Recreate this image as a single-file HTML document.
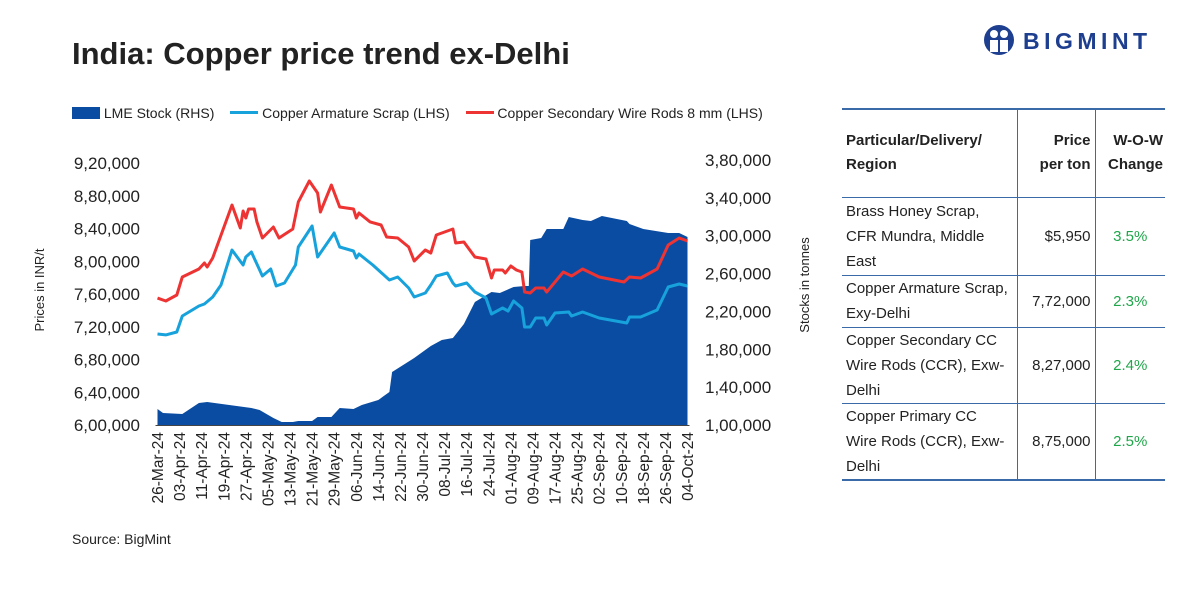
<!DOCTYPE html>
<html><head><meta charset="utf-8"><style>
body{margin:0;width:1200px;height:600px;background:#fff;font-family:"Liberation Sans",sans-serif;position:relative;overflow:hidden}
.abs{position:absolute}
table{border-collapse:collapse;table-layout:fixed}
td.c1{padding:0 8px 0 4px;line-height:25px}
</style></head><body>
<div class="abs" style="left:72px;top:36px;font-size:31px;font-weight:bold;color:#222">India: Copper price trend ex-Delhi</div>
<div class="abs" style="left:983px;top:24px;width:175px;height:32px">
<svg width="36" height="32" style="position:absolute;left:0;top:0"><circle cx="16" cy="16" r="15" fill="#1e3f8f"/><circle cx="11" cy="10" r="4" fill="#fff"/><circle cx="21" cy="10" r="4" fill="#fff"/><path d="M7 16h8v12h-8zM17 16h8v12h-8z" fill="#fff"/></svg>
<span style="position:absolute;left:40px;top:4px;font-size:23px;font-weight:bold;letter-spacing:4.5px;color:#1e3f8f">BIGMINT</span></div>

<div class="abs" style="left:72px;top:105px;font-size:14px;color:#222;white-space:nowrap">
<span><span style="display:inline-block;width:28px;height:12px;background:#0a4ca2;vertical-align:-1px"></span> LME Stock (RHS)</span>
<span style="margin-left:12px"><span style="display:inline-block;width:28px;height:3px;background:#17a2dc;vertical-align:4px"></span> Copper Armature Scrap (LHS)</span>
<span style="margin-left:12px"><span style="display:inline-block;width:28px;height:3px;background:#ee3333;vertical-align:4px"></span> Copper Secondary Wire Rods 8 mm (LHS)</span>
</div>

<svg class="abs" style="left:0;top:0" width="840" height="600" id="chart"></svg>
<div class="abs" style="left:72px;top:531px;font-size:14px;color:#222">Source: BigMint</div>

<div class="abs" style="left:842px;top:108px;width:323px">
<table style="width:323px;font-size:15px;color:#222;border-top:2px solid #3b6aa8;border-bottom:2px solid #3b6aa8">
<colgroup><col style="width:175px"><col style="width:78px"><col style="width:70px"></colgroup>
<tr style="height:88px;font-weight:bold;border-bottom:1px solid #3b6aa8"><td style="padding:0 4px;line-height:24px">Particular/Delivery/<br>Region</td><td style="text-align:right;padding-right:4px;line-height:24px;border-left:1px solid #3b6aa8">Price<br>per ton</td><td style="text-align:right;padding-right:2px;line-height:24px;border-left:1px solid #3b6aa8">W-O-W<br>Change</td></tr>
<tr style="height:78px;border-bottom:1px solid #3b6aa8"><td class="c1">Brass Honey Scrap, CFR Mundra, Middle East</td><td style="text-align:right;padding-right:4px;border-left:1px solid #3b6aa8">$5,950</td><td style="text-align:center;color:#1fa64a;border-left:1px solid #3b6aa8">3.5%</td></tr>
<tr style="height:52px;border-bottom:1px solid #3b6aa8"><td class="c1">Copper Armature Scrap, Exy-Delhi</td><td style="text-align:right;padding-right:4px;border-left:1px solid #3b6aa8">7,72,000</td><td style="text-align:center;color:#1fa64a;border-left:1px solid #3b6aa8">2.3%</td></tr>
<tr style="height:76px;border-bottom:1px solid #3b6aa8"><td class="c1">Copper Secondary CC Wire Rods (CCR), Exw-Delhi</td><td style="text-align:right;padding-right:4px;border-left:1px solid #3b6aa8">8,27,000</td><td style="text-align:center;color:#1fa64a;border-left:1px solid #3b6aa8">2.4%</td></tr>
<tr style="height:76px"><td class="c1">Copper Primary CC Wire Rods (CCR), Exw-Delhi</td><td style="text-align:right;padding-right:4px;border-left:1px solid #3b6aa8">8,75,000</td><td style="text-align:center;color:#1fa64a;border-left:1px solid #3b6aa8">2.5%</td></tr>
</table></div>

<script>
const xLabels=["26-Mar-24","03-Apr-24","11-Apr-24","19-Apr-24","27-Apr-24","05-May-24","13-May-24","21-May-24","29-May-24","06-Jun-24","14-Jun-24","22-Jun-24","30-Jun-24","08-Jul-24","16-Jul-24","24-Jul-24","01-Aug-24","09-Aug-24","17-Aug-24","25-Aug-24","02-Sep-24","10-Sep-24","18-Sep-24","26-Sep-24","04-Oct-24"];
const leftTicks=[600000,640000,680000,720000,760000,800000,840000,880000,920000];
const leftTickLabels=["6,00,000","6,40,000","6,80,000","7,20,000","7,60,000","8,00,000","8,40,000","8,80,000","9,20,000"];
const rightTicks=[100000,140000,180000,220000,260000,300000,340000,380000];
const rightTickLabels=["1,00,000","1,40,000","1,80,000","2,20,000","2,60,000","3,00,000","3,40,000","3,80,000"];
const redDays=[0,3,7,9,15,17,18,20,27,30,31,32,33,35,36,38,42,44,49,51,55,58,59,63,66,71,72,73,77,81,83,87,91,93,97,99,101,107,108,111,115,119,121,122,125,126,128,130,132,133,135,137,140,141,147,150,154,160,169,171,175,181,185,189,192];
const redVals=[755000,751500,758800,780800,790500,797900,793000,804000,868700,840600,861400,852800,863800,863800,848000,828400,841800,828400,839400,872400,898000,883400,860200,893100,866300,863800,852800,858900,848000,844300,829600,828400,817400,800300,813700,810100,832100,839400,822300,823500,805200,802800,779500,789300,789300,785700,794200,789300,786900,762400,761200,767300,767300,762400,786900,782000,790500,780800,774700,780800,779500,790500,819900,828400,824700];
const blueDays=[0,3,7,9,15,17,20,23,27,31,32,34,36,38,41,43,46,50,51,56,58,64,66,71,72,73,78,84,87,91,93,97,99,101,105,107,108,112,115,119,121,125,127,129,132,133,135,137,140,141,144,149,150,154,160,170,171,175,181,185,189,192];
const blueVals=[711100,710000,713600,733100,745300,747800,756300,771000,813700,795400,805200,811300,796600,782000,790500,769800,773400,795400,817400,843100,805200,834500,817400,812500,804000,808900,795400,777100,780800,767300,756300,761200,771000,782000,785700,773400,769800,773400,762400,755100,735600,742900,739200,751500,742900,719700,719700,730700,730700,722100,736800,738000,733100,738000,730700,724600,731900,731900,740500,768600,772200,769800];
const stockDays=[0,2,9,15,18,26,34,37,42,45,49,51,56,58,63,66,71,74,80,84,85,93,99,103,107,111,115,121,124,129,133,134.5,135,139,141,147,149,154,157,161,170,171,176,185,189,192];
const stockVals=[116900,112700,111600,123200,124300,121100,118000,115800,107400,103200,103200,104200,104200,108500,108500,118000,116900,121100,126400,134900,156000,170800,183500,189800,191900,206700,230000,240500,239500,245800,246900,246900,295500,297600,307100,307100,319800,316600,315500,320800,315500,312400,307100,302900,302900,298600];

const X0=157.5,X1=687.5,DAYS=192,YB=425;
const xs=d=>X0+(X1-X0)*d/DAYS;
const yl=v=>YB-(v-600000)*(425-163)/320000;
const yr=v=>YB-(v-100000)*(425-160)/280000;
const svg=document.getElementById('chart');
const NS='http://www.w3.org/2000/svg';
function mk(t,a){const e=document.createElementNS(NS,t);for(const k in a)e.setAttribute(k,a[k]);svg.appendChild(e);return e;}

let d='M'+xs(stockDays[0])+','+YB;
stockDays.forEach((x,i)=>{d+=' L'+xs(x).toFixed(1)+','+yr(stockVals[i]).toFixed(1);});
d+=' L'+xs(stockDays[stockDays.length-1])+','+YB+' Z';
const area=mk('path',{d:d,fill:'#0a4ca2'});



const pb=mk('polyline',{points:blueDays.map((x,i)=>xs(x).toFixed(1)+','+yl(blueVals[i]).toFixed(1)).join(' '),fill:'none',stroke:'#17a2dc','stroke-width':3,'stroke-linejoin':'round'});


const pr=mk('polyline',{points:redDays.map((x,i)=>xs(x).toFixed(1)+','+yl(redVals[i]).toFixed(1)).join(' '),fill:'none',stroke:'#ee3333','stroke-width':3,'stroke-linejoin':'round'});



const ax=mk('line',{x1:X0-2,x2:X1+2,y1:YB+0.5,y2:YB+0.5,stroke:'#444','stroke-width':1});



leftTicks.forEach((v,i)=>{const t=mk('text',{x:140,y:yl(v)+6,'text-anchor':'end','font-size':17,fill:'#222'});t.textContent=leftTickLabels[i];

});
rightTicks.forEach((v,i)=>{const t=mk('text',{x:705,y:yr(v)+6,'font-size':17,fill:'#222'});t.textContent=rightTickLabels[i];

});
xLabels.forEach((l,i)=>{const x=xs(i*8)+5.5;const t=mk('text',{x:0,y:0,'text-anchor':'end','font-size':15.5,fill:'#222',transform:'translate('+x+',432) rotate(-90)'});t.textContent=l;

});
const yt=mk('text',{x:0,y:0,'text-anchor':'middle','font-size':13,fill:'#222',transform:'translate(44,290) rotate(-90)'});yt.textContent='Prices in INR/t';


const yt2=mk('text',{x:0,y:0,'text-anchor':'middle','font-size':13,fill:'#222',transform:'translate(809,285) rotate(-90)'});yt2.textContent='Stocks in tonnes';


</script>
</body></html>
